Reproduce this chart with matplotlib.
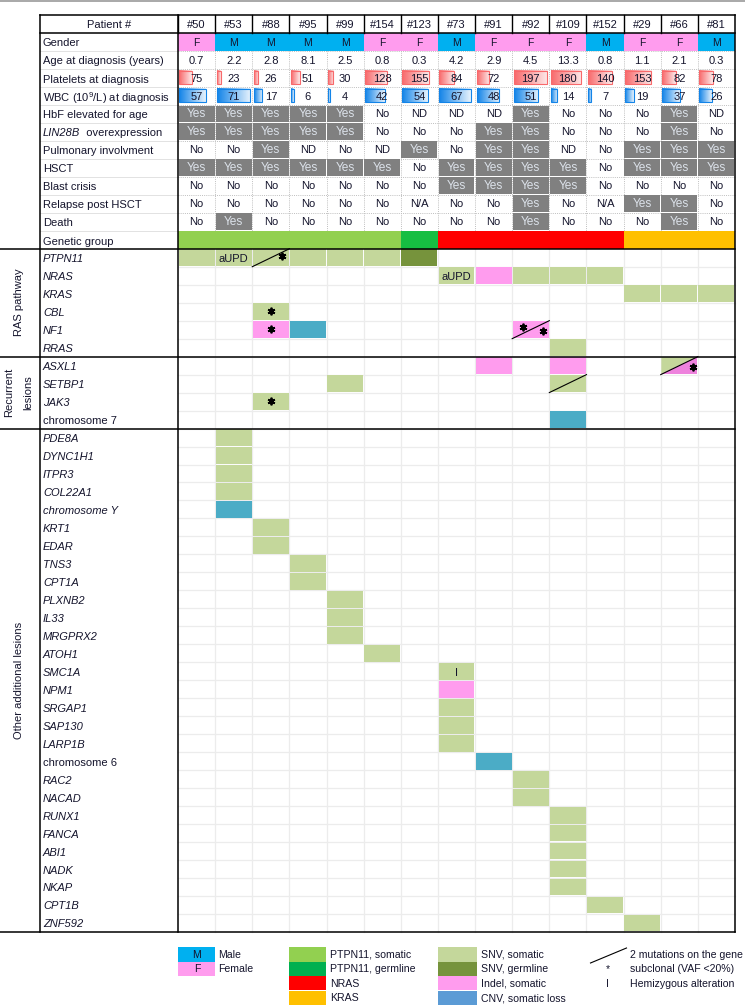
import numpy as np
import matplotlib
matplotlib.use('Agg')
import matplotlib.pyplot as plt
from matplotlib.patches import Rectangle, Polygon
from matplotlib.colors import LinearSegmentedColormap

plt.rcParams['font.family'] = ['Liberation Sans', 'DejaVu Sans']
plt.rcParams['mathtext.fontset'] = 'custom'
plt.rcParams['mathtext.rm'] = 'Liberation Sans'
plt.rcParams['mathtext.it'] = 'Liberation Sans:italic'

# ---------------- data ----------------
patients = ['#50', '#53', '#88', '#95', '#99', '#154', '#123', '#73', '#91',
            '#92', '#109', '#152', '#29', '#66', '#81']
gender = ['F', 'M', 'M', 'M', 'M', 'F', 'F', 'M', 'F', 'F', 'F', 'M', 'F', 'F', 'M']
age = ['0.7', '2.2', '2.8', '8.1', '2.5', '0.8', '0.3', '4.2', '2.9', '4.5',
       '13.3', '0.8', '1.1', '2.1', '0.3']
platelets = [75, 23, 26, 51, 30, 128, 155, 84, 72, 197, 180, 140, 153, 82, 78]
wbc = [57, 71, 17, 6, 4, 42, 54, 67, 48, 51, 14, 7, 19, 37, 26]
hbf = ['Yes', 'Yes', 'Yes', 'Yes', 'Yes', 'No', 'ND', 'ND', 'ND', 'Yes', 'No', 'No', 'No', 'Yes', 'ND']
lin28b = ['Yes', 'Yes', 'Yes', 'Yes', 'Yes', 'No', 'No', 'No', 'Yes', 'Yes', 'No', 'No', 'No', 'Yes', 'No']
pulmonary = ['No', 'No', 'Yes', 'ND', 'No', 'ND', 'Yes', 'No', 'Yes', 'Yes', 'ND', 'No', 'Yes', 'Yes', 'Yes']
hsct = ['Yes', 'Yes', 'Yes', 'Yes', 'Yes', 'Yes', 'No', 'Yes', 'Yes', 'Yes', 'Yes', 'No', 'Yes', 'Yes', 'Yes']
blast = ['No', 'No', 'No', 'No', 'No', 'No', 'No', 'Yes', 'Yes', 'Yes', 'Yes', 'No', 'No', 'No', 'No']
relapse = ['No', 'No', 'No', 'No', 'No', 'No', 'N/A', 'No', 'No', 'Yes', 'No', 'N/A', 'Yes', 'Yes', 'No']
death = ['No', 'Yes', 'No', 'No', 'No', 'No', 'No', 'No', 'No', 'Yes', 'No', 'No', 'No', 'Yes', 'No']
genetic_group = ['PTPN11, somatic'] * 6 + ['PTPN11, germline'] + ['NRAS'] * 5 + ['KRAS'] * 3

ras_genes = ['PTPN11', 'NRAS', 'KRAS', 'CBL', 'NF1', 'RRAS']
recurrent_genes = ['ASXL1', 'SETBP1', 'JAK3', 'chromosome 7']
other_genes = ['PDE8A', 'DYNC1H1', 'ITPR3', 'COL22A1', 'chromosome Y', 'KRT1', 'EDAR',
               'TNS3', 'CPT1A', 'PLXNB2', 'IL33', 'MRGPRX2', 'ATOH1', 'SMC1A', 'NPM1',
               'SRGAP1', 'SAP130', 'LARP1B', 'chromosome 6', 'RAC2', 'NACAD', 'RUNX1',
               'FANCA', 'ABI1', 'NADK', 'NKAP', 'CPT1B', 'ZNF592']
upright_genes = ['chromosome 7', 'chromosome 6']

# (gene, patient, alteration, second alteration for split cell, label, two mutations, subclonal marks)
alterations = [
    ('PTPN11', '#50', 'SNV, somatic', None, '', False, []),
    ('PTPN11', '#53', 'SNV, somatic', None, 'aUPD', False, []),
    ('PTPN11', '#88', 'SNV, somatic', None, '', True, ['ur']),
    ('PTPN11', '#95', 'SNV, somatic', None, '', False, []),
    ('PTPN11', '#99', 'SNV, somatic', None, '', False, []),
    ('PTPN11', '#154', 'SNV, somatic', None, '', False, []),
    ('PTPN11', '#123', 'SNV, germline', None, '', False, []),
    ('NRAS', '#73', 'SNV, somatic', None, 'aUPD', False, []),
    ('NRAS', '#91', 'Indel, somatic', None, '', False, []),
    ('NRAS', '#92', 'SNV, somatic', None, '', False, []),
    ('NRAS', '#109', 'SNV, somatic', None, '', False, []),
    ('NRAS', '#152', 'SNV, somatic', None, '', False, []),
    ('KRAS', '#29', 'SNV, somatic', None, '', False, []),
    ('KRAS', '#66', 'SNV, somatic', None, '', False, []),
    ('KRAS', '#81', 'SNV, somatic', None, '', False, []),
    ('CBL', '#88', 'SNV, somatic', None, '', False, ['c']),
    ('NF1', '#88', 'Indel, somatic', None, '', False, ['c']),
    ('NF1', '#95', 'CNV, somatic loss', None, '', False, []),
    ('NF1', '#92', 'Indel, somatic', None, '', True, ['ul', 'lr']),
    ('RRAS', '#109', 'SNV, somatic', None, '', False, []),
    ('ASXL1', '#91', 'Indel, somatic', None, '', False, []),
    ('ASXL1', '#109', 'Indel, somatic', None, '', False, []),
    ('ASXL1', '#66', 'SNV, somatic', 'Indel, somatic', '', True, ['r']),
    ('SETBP1', '#99', 'SNV, somatic', None, '', False, []),
    ('SETBP1', '#109', 'SNV, somatic', None, '', True, []),
    ('JAK3', '#88', 'SNV, somatic', None, '', False, ['c']),
    ('chromosome 7', '#109', 'CNV, somatic loss', None, '', False, []),
    ('PDE8A', '#53', 'SNV, somatic', None, '', False, []),
    ('DYNC1H1', '#53', 'SNV, somatic', None, '', False, []),
    ('ITPR3', '#53', 'SNV, somatic', None, '', False, []),
    ('COL22A1', '#53', 'SNV, somatic', None, '', False, []),
    ('chromosome Y', '#53', 'CNV, somatic loss', None, '', False, []),
    ('KRT1', '#88', 'SNV, somatic', None, '', False, []),
    ('EDAR', '#88', 'SNV, somatic', None, '', False, []),
    ('TNS3', '#95', 'SNV, somatic', None, '', False, []),
    ('CPT1A', '#95', 'SNV, somatic', None, '', False, []),
    ('PLXNB2', '#99', 'SNV, somatic', None, '', False, []),
    ('IL33', '#99', 'SNV, somatic', None, '', False, []),
    ('MRGPRX2', '#99', 'SNV, somatic', None, '', False, []),
    ('ATOH1', '#154', 'SNV, somatic', None, '', False, []),
    ('SMC1A', '#73', 'SNV, somatic', None, 'I', False, []),
    ('NPM1', '#73', 'Indel, somatic', None, '', False, []),
    ('SRGAP1', '#73', 'SNV, somatic', None, '', False, []),
    ('SAP130', '#73', 'SNV, somatic', None, '', False, []),
    ('LARP1B', '#73', 'SNV, somatic', None, '', False, []),
    ('chromosome 6', '#91', 'CNV, somatic loss', None, '', False, []),
    ('RAC2', '#92', 'SNV, somatic', None, '', False, []),
    ('NACAD', '#92', 'SNV, somatic', None, '', False, []),
    ('RUNX1', '#109', 'SNV, somatic', None, '', False, []),
    ('FANCA', '#109', 'SNV, somatic', None, '', False, []),
    ('ABI1', '#109', 'SNV, somatic', None, '', False, []),
    ('NADK', '#109', 'SNV, somatic', None, '', False, []),
    ('NKAP', '#109', 'SNV, somatic', None, '', False, []),
    ('CPT1B', '#152', 'SNV, somatic', None, '', False, []),
    ('ZNF592', '#29', 'SNV, somatic', None, '', False, []),
]

# ---------------- styles ----------------
TXT = '#14142c'
gender_colors = {'M': '#00B0F0', 'F': '#FF9CEE'}
group_colors = {'PTPN11, somatic': '#92D050', 'PTPN11, germline': '#16BE42',
                'NRAS': '#FF0000', 'KRAS': '#FFC000'}
alt_colors = {'SNV, somatic': '#C4D79B', 'SNV, germline': '#76933C',
              'Indel, somatic': '#FF9CEE', 'CNV, somatic loss': '#4BACC6'}
split_second = {'Indel, somatic': '#EE82DD'}
legend_alt_colors = {'SNV, somatic': '#C4D79B', 'SNV, germline': '#76933C',
                     'Indel, somatic': '#FF9CEE', 'CNV, somatic loss': '#5B9BD5'}
legend_group_colors = {'PTPN11, somatic': '#92D050', 'PTPN11, germline': '#00B050',
                       'NRAS': '#FF0000', 'KRAS': '#FFC000'}
YES_FILL = '#808080'
YES_TXT = '#DCE2EA'
FS = 8.0
LFS = 7.6

# ---------------- layout (pixels -> cell units) ----------------
W, H = 745, 1007
X0, X1 = 178, 735          # patient columns span
Y0, Y1 = 15, 932           # table span
NC = len(patients)
n_clin = 13
NR = n_clin + len(ras_genes) + len(recurrent_genes) + len(other_genes)
CW = (X1 - X0) / NC
RH = (Y1 - Y0) / NR


def px(x):
    return (x - X0) / CW


def py(y):
    return (y - Y0) / RH


fig = plt.figure(figsize=(W / 100, H / 100), dpi=100)
ax = fig.add_axes([0, 0, 1, 1])
ax.axis('off')

LBL_L = px(40)
GRP_L = px(0)

# top grey rule
ax.plot([px(0), px(W)], [py(1), py(1)], color='#A8A8A8', lw=1.4, solid_capstyle='butt')

clin_rows = [('HbF elevated for age', hbf), (None, lin28b), ('Pulmonary involvment', pulmonary),
             ('HSCT', hsct), ('Blast crisis', blast), ('Relapse post HSCT', relapse),
             ('Death', death)]

# light label-column rules (clinical part)
for r in range(2, n_clin):
    ax.plot([LBL_L, 0], [r, r], color='#E2E2E2', lw=0.7)
# dotted grid (clinical part)
for r in range(2, n_clin):
    ax.plot([0, NC], [r, r], color='#BFBFBF', lw=0.7, ls=(0, (1, 1.2)))
for c in range(1, NC):
    ax.plot([c, c], [1, n_clin - 1], color='#BFBFBF', lw=0.7, ls=(0, (1, 1.2)))

# gene grid
for r in range(n_clin + 1, NR):
    ax.plot([0, NC], [r, r], color='#ECECEC', lw=0.9)
for c in range(1, NC):
    ax.plot([c, c], [n_clin, NR], color='#ECECEC', lw=0.9)

ix = 0.6 / CW
iy = 0.6 / RH


def cell(c, r, color, inset=True):
    dx, dy = (ix, iy) if inset else (0, 0)
    ax.add_patch(Rectangle((c + dx, r + dy), 1 - 2 * dx, 1 - 2 * dy, facecolor=color,
                           edgecolor='none', zorder=2))


# header row
ax.text((LBL_L + 0) / 2, 0.55, 'Patient #', ha='center', va='center', fontsize=FS, color=TXT)
for c, p in enumerate(patients):
    ax.text(c + 0.5, 0.55, p, ha='center', va='center', fontsize=FS, color=TXT)
    ax.plot([c, c], [0, 1], color='black', lw=1.0, zorder=5)

lx = LBL_L + 3 / CW

# gender
ax.text(lx, 1.58, 'Gender', ha='left', va='center', fontsize=FS, color=TXT)
for c, g in enumerate(gender):
    cell(c, 1, gender_colors[g], inset=False)
    ax.text(c + 0.5, 1.55, g, ha='center', va='center', fontsize=FS - 0.5, color=TXT, zorder=4)

ax.text(lx, 2.58, 'Age at diagnosis (years)', ha='left', va='center', fontsize=FS, color=TXT)
for c, a in enumerate(age):
    ax.text(c + 0.5, 2.55, a, ha='center', va='center', fontsize=FS, color=TXT)


def databars(row, vals, color, light):
    cmap = LinearSegmentedColormap.from_list('g', [color, light])
    vmax = max(vals)
    for c, v in enumerate(vals):
        x0 = c + 1.5 / CW
        L = v / vmax * (33.5 / CW)
        y0 = row + 2.2 / RH
        y1 = row + 1 - 2.6 / RH
        ax.imshow(np.linspace(0, 1, 64).reshape(1, -1), cmap=cmap, aspect='auto',
                  extent=[x0, x0 + L, y1, y0], zorder=2, interpolation='bilinear')
        ax.add_patch(Rectangle((x0, y0), L, y1 - y0, facecolor='none', edgecolor=color,
                               lw=0.8, zorder=3))
        ax.text(c + 0.5, row + 0.55, str(v), ha='center', va='center', fontsize=FS,
                color=TXT, zorder=4)


ax.text(lx, 3.62, 'Platelets at diagnosis', ha='left', va='center', fontsize=FS, color=TXT)
databars(3, platelets, '#F8696B', '#FDEAEA')
ax.text(lx, 4.62, r'WBC (10$^{9}$/L) at diagnosis', ha='left', va='center', fontsize=FS, color=TXT)
databars(4, wbc, '#1384E8', '#E8F3FD')

for k, (label, vals) in enumerate(clin_rows):
    r = 5 + k
    if label is None:
        t = ax.text(lx, r + 0.58, 'LIN28B', ha='left', va='center', fontsize=FS, color=TXT,
                    style='italic')
        ax.annotate('  overexpression', xycoords=t, xy=(1, 0), va='bottom', ha='left',
                    fontsize=FS, color=TXT)
    else:
        ax.text(lx, r + 0.58, label, ha='left', va='center', fontsize=FS, color=TXT)
    for c, v in enumerate(vals):
        if v == 'Yes':
            cell(c, r, YES_FILL)
            ax.text(c + 0.5, r + 0.5, v, ha='center', va='center', fontsize=FS + 0.6,
                    color=YES_TXT, zorder=4)
        else:
            ax.text(c + 0.5, r + 0.52, v, ha='center', va='center', fontsize=FS,
                    color=TXT, zorder=4)

# genetic group
ax.text(lx, 12.62, 'Genetic group', ha='left', va='center', fontsize=FS, color=TXT)
for c, g in enumerate(genetic_group):
    cell(c, 12, group_colors[g], inset=False)

# gene rows
gene_rows = {}
r = n_clin
for g in ras_genes + recurrent_genes + other_genes:
    gene_rows[g] = r
    ax.text(lx, r + 0.58, g, ha='left', va='center', fontsize=FS, color=TXT,
            style='normal' if g in upright_genes else 'italic')
    r += 1

star_pos = {'c': (0.5, 0.45), 'ur': (0.8, 0.42), 'ul': (0.3, 0.35), 'lr': (0.84, 0.6),
            'r': (0.86, 0.55)}
for gene, pat, alt, alt2, label, two, subs in alterations:
    r = gene_rows[gene]
    c = patients.index(pat)
    xa, xb = c + ix, c + 1 - ix
    ya, yb = r + iy, r + 1 - iy
    if alt2 is None:
        cell(c, r, alt_colors[alt])
    else:
        ax.add_patch(Polygon([(xa, ya), (xb, ya), (xa, yb)], closed=True,
                             facecolor=alt_colors[alt], edgecolor='none', zorder=2))
        ax.add_patch(Polygon([(xb, ya), (xb, yb), (xa, yb)], closed=True,
                             facecolor=split_second[alt2], edgecolor='none', zorder=2))
    if two:
        ax.plot([c, c + 1], [r + 1, r], color='black', lw=0.8, zorder=4)
    if label:
        ax.text(c + 0.5, r + 0.58, label, ha='center', va='center', fontsize=FS,
                color=TXT, zorder=4)
    for s in subs:
        fx, fy = star_pos[s]
        ax.plot(c + fx, r + fy, marker=(6, 2, 0), ms=5.5, mew=1.3, color='black',
                zorder=5)

# heavy borders
B = dict(color='black', lw=1.1, zorder=6, solid_capstyle='projecting')
ax.plot([LBL_L, NC], [0, 0], **B)
ax.plot([LBL_L, NC], [1, 1], **B)
for yb in [n_clin, n_clin + len(ras_genes), n_clin + len(ras_genes) + len(recurrent_genes), NR]:
    ax.plot([GRP_L, NC], [yb, yb], **B)
ax.plot([LBL_L, LBL_L], [0, NR], **B)
ax.plot([0, 0], [0, NR], **B)
ax.plot([NC, NC], [0, NR], **B)

# group labels
gx = px(19)
ax.text(gx, n_clin + len(ras_genes) / 2, 'RAS pathway', rotation=90, ha='center',
        va='center', fontsize=FS, color=TXT)
rec_c = n_clin + len(ras_genes) + len(recurrent_genes) / 2
ax.text(gx, rec_c, 'Recurrent\nlesions', rotation=90, ha='center', va='center',
        fontsize=FS, color=TXT, linespacing=2.1, multialignment='center')
oth_c = n_clin + len(ras_genes) + len(recurrent_genes) + len(other_genes) / 2
ax.text(gx, oth_c, 'Other additional lesions', rotation=90, ha='center', va='center',
        fontsize=FS, color=TXT)

# ---------------- legend ----------------
leg_y = [947, 961.5, 976, 990.5]
lh = 14.5 / RH


def leg_box(xl, xr, ytop, color):
    ax.add_patch(Rectangle((px(xl), py(ytop)), px(xr) - px(xl), lh, facecolor=color,
                           edgecolor='none'))


for k, (g, name) in enumerate([('M', 'Male'), ('F', 'Female')]):
    leg_box(178.5, 215, leg_y[k], gender_colors[g])
    ym = py(leg_y[k]) + lh * 0.55
    ax.text(px(197), ym, g, ha='center', va='center', fontsize=LFS, color=TXT)
    ax.text(px(218.5), ym, name, ha='left', va='center', fontsize=LFS, color=TXT)

for k, name in enumerate(legend_group_colors):
    leg_box(289, 325.5, leg_y[k], legend_group_colors[name])
    ax.text(px(330), py(leg_y[k]) + lh * 0.55, name, ha='left', va='center', fontsize=LFS,
            color=TXT)

for k, name in enumerate(legend_alt_colors):
    leg_box(438, 477, leg_y[k], legend_alt_colors[name])
    ax.text(px(481), py(leg_y[k]) + lh * 0.55, name, ha='left', va='center', fontsize=LFS,
            color=TXT)

ax.plot([px(590.5), px(626.5)], [py(963), py(948)], color='black', lw=0.8)
notes = ['2 mutations on the gene', 'subclonal (VAF <20%)', 'Hemizygous alteration']
syms = ['', '*', 'I']
for k, (s, n) in enumerate(zip(syms, notes)):
    ym = py(leg_y[k]) + lh * 0.55
    if s:
        ax.text(px(607.5), ym, s, ha='center', va='center', fontsize=LFS, color=TXT)
    ax.text(px(630), ym, n, ha='left', va='center', fontsize=LFS, color=TXT)

ax.set_xlim(px(0), px(W))
ax.set_ylim(py(H), py(0))
fig.savefig('out.png', dpi=100)
